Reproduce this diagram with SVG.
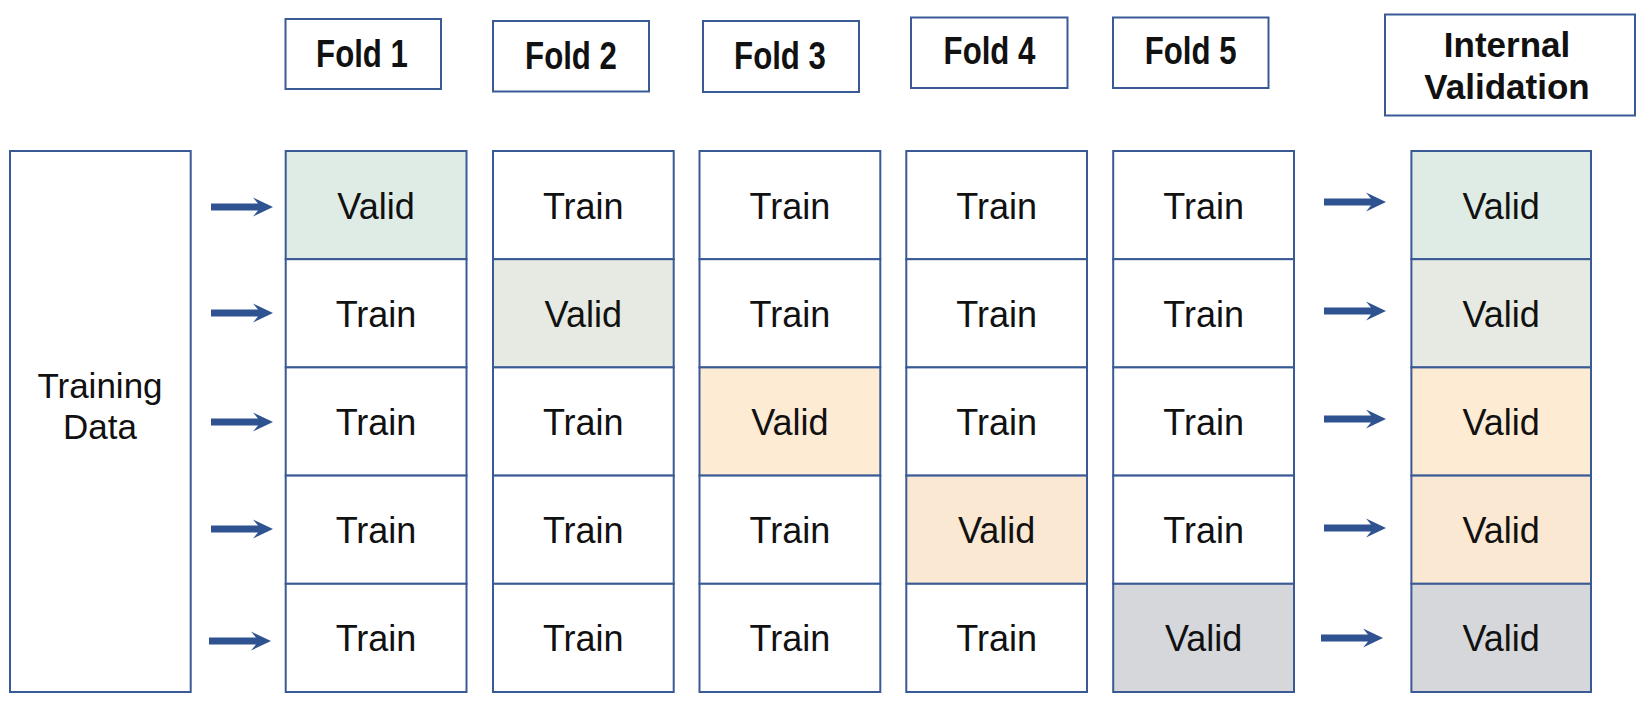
<svg xmlns="http://www.w3.org/2000/svg" xmlns:xlink="http://www.w3.org/1999/xlink" width="1645" height="703" viewBox="0 0 1645 703">
<style>
.box{fill:#fff;stroke:#3A5A96;stroke-width:2}
.v1{fill:#DFECE6}
.v2{fill:#E6EAE2}
.v3{fill:#FDEBD3}
.v4{fill:#FBE8D3}
.v5{fill:#D6D7DB}
.t{font-family:"Liberation Sans",Arial,sans-serif;font-size:36px;fill:#111;text-anchor:middle}
.td{font-family:"Liberation Sans",Arial,sans-serif;font-size:35px;fill:#111;text-anchor:middle}
.fold{font-family:"Liberation Sans",Arial,sans-serif;font-size:39px;font-weight:bold;fill:#111;text-anchor:middle}
.iv{font-family:"Liberation Sans",Arial,sans-serif;font-size:35px;font-weight:bold;fill:#111;text-anchor:middle}
.arr{fill:#2F5290}
</style>
<defs>
<path id="arrow" d="M0,-3.4 H47 L42,-9.5 L62,0 L42,9.5 L47,3.4 H0 Z"/>
</defs>
<rect width="1645" height="703" fill="#fff"/>

<!-- headers -->
<g id="h1"><rect class="box" x="285.5" y="19" width="155.5" height="70"/><text class="fold" transform="translate(362,67) scale(0.8,1)">Fold 1</text></g>
<g id="h2"><rect class="box" x="493" y="21" width="156" height="70.5"/><text class="fold" transform="translate(571,69.3) scale(0.8,1)">Fold 2</text></g>
<g id="h3"><rect class="box" x="703" y="21" width="156" height="71"/><text class="fold" transform="translate(780,68.6) scale(0.8,1)">Fold 3</text></g>
<g id="h4"><rect class="box" x="911" y="17.5" width="156.5" height="70.5"/><text class="fold" transform="translate(989.5,64.3) scale(0.8,1)">Fold 4</text></g>
<g id="h5"><rect class="box" x="1113" y="17.5" width="155.5" height="70.5"/><text class="fold" transform="translate(1190.6,64.3) scale(0.8,1)">Fold 5</text></g>
<g id="hiv"><rect class="box" x="1385" y="14.5" width="250" height="101"/><text class="iv" x="1507" y="56.7">Internal</text><text class="iv" x="1507" y="99">Validation</text></g>

<!-- training data -->
<g id="training"><rect class="box" x="10" y="151" width="180.7" height="541"/><text class="td" x="100" y="397.7">Training</text><text class="td" x="100" y="439.3">Data</text></g>

<!-- Fold 1 column -->
<g id="f1r1"><rect class="box v1" x="285.7" y="151" width="180.8" height="108.2"/><text class="t" x="376" y="218.6">Valid</text></g>
<g id="f1r2"><rect class="box" x="285.7" y="259.2" width="180.8" height="108.2"/><text class="t" x="376" y="326.8">Train</text></g>
<g id="f1r3"><rect class="box" x="285.7" y="367.4" width="180.8" height="108.2"/><text class="t" x="376" y="435">Train</text></g>
<g id="f1r4"><rect class="box" x="285.7" y="475.6" width="180.8" height="108.2"/><text class="t" x="376" y="543.2">Train</text></g>
<g id="f1r5"><rect class="box" x="285.7" y="583.8" width="180.8" height="108.2"/><text class="t" x="376" y="651.4">Train</text></g>

<!-- Fold 2 column -->
<g id="f2r1"><rect class="box" x="493" y="151" width="180.7" height="108.2"/><text class="t" x="583.3" y="218.6">Train</text></g>
<g id="f2r2"><rect class="box v2" x="493" y="259.2" width="180.7" height="108.2"/><text class="t" x="583.3" y="326.8">Valid</text></g>
<g id="f2r3"><rect class="box" x="493" y="367.4" width="180.7" height="108.2"/><text class="t" x="583.3" y="435">Train</text></g>
<g id="f2r4"><rect class="box" x="493" y="475.6" width="180.7" height="108.2"/><text class="t" x="583.3" y="543.2">Train</text></g>
<g id="f2r5"><rect class="box" x="493" y="583.8" width="180.7" height="108.2"/><text class="t" x="583.3" y="651.4">Train</text></g>

<!-- Fold 3 column -->
<g id="f3r1"><rect class="box" x="699.5" y="151" width="180.8" height="108.2"/><text class="t" x="789.9" y="218.6">Train</text></g>
<g id="f3r2"><rect class="box" x="699.5" y="259.2" width="180.8" height="108.2"/><text class="t" x="789.9" y="326.8">Train</text></g>
<g id="f3r3"><rect class="box v3" x="699.5" y="367.4" width="180.8" height="108.2"/><text class="t" x="789.9" y="435">Valid</text></g>
<g id="f3r4"><rect class="box" x="699.5" y="475.6" width="180.8" height="108.2"/><text class="t" x="789.9" y="543.2">Train</text></g>
<g id="f3r5"><rect class="box" x="699.5" y="583.8" width="180.8" height="108.2"/><text class="t" x="789.9" y="651.4">Train</text></g>

<!-- Fold 4 column -->
<g id="f4r1"><rect class="box" x="906.3" y="151" width="180.7" height="108.2"/><text class="t" x="996.6" y="218.6">Train</text></g>
<g id="f4r2"><rect class="box" x="906.3" y="259.2" width="180.7" height="108.2"/><text class="t" x="996.6" y="326.8">Train</text></g>
<g id="f4r3"><rect class="box" x="906.3" y="367.4" width="180.7" height="108.2"/><text class="t" x="996.6" y="435">Train</text></g>
<g id="f4r4"><rect class="box v4" x="906.3" y="475.6" width="180.7" height="108.2"/><text class="t" x="996.6" y="543.2">Valid</text></g>
<g id="f4r5"><rect class="box" x="906.3" y="583.8" width="180.7" height="108.2"/><text class="t" x="996.6" y="651.4">Train</text></g>

<!-- Fold 5 column -->
<g id="f5r1"><rect class="box" x="1113.2" y="151" width="180.8" height="108.2"/><text class="t" x="1203.6" y="218.6">Train</text></g>
<g id="f5r2"><rect class="box" x="1113.2" y="259.2" width="180.8" height="108.2"/><text class="t" x="1203.6" y="326.8">Train</text></g>
<g id="f5r3"><rect class="box" x="1113.2" y="367.4" width="180.8" height="108.2"/><text class="t" x="1203.6" y="435">Train</text></g>
<g id="f5r4"><rect class="box" x="1113.2" y="475.6" width="180.8" height="108.2"/><text class="t" x="1203.6" y="543.2">Train</text></g>
<g id="f5r5"><rect class="box v5" x="1113.2" y="583.8" width="180.8" height="108.2"/><text class="t" x="1203.6" y="651.4">Valid</text></g>

<!-- Internal validation column -->
<g id="ivr1"><rect class="box v1" x="1411.4" y="151" width="179.6" height="108.2"/><text class="t" x="1501.2" y="218.6">Valid</text></g>
<g id="ivr2"><rect class="box v2" x="1411.4" y="259.2" width="179.6" height="108.2"/><text class="t" x="1501.2" y="326.8">Valid</text></g>
<g id="ivr3"><rect class="box v3" x="1411.4" y="367.4" width="179.6" height="108.2"/><text class="t" x="1501.2" y="435">Valid</text></g>
<g id="ivr4"><rect class="box v4" x="1411.4" y="475.6" width="179.6" height="108.2"/><text class="t" x="1501.2" y="543.2">Valid</text></g>
<g id="ivr5"><rect class="box v5" x="1411.4" y="583.8" width="179.6" height="108.2"/><text class="t" x="1501.2" y="651.4">Valid</text></g>

<!-- connectors -->
<g id="connectors" class="arr">
<use xlink:href="#arrow" href="#arrow" x="211" y="207"/>
<use xlink:href="#arrow" href="#arrow" x="211" y="313"/>
<use xlink:href="#arrow" href="#arrow" x="211" y="422"/>
<use xlink:href="#arrow" href="#arrow" x="211" y="529"/>
<use xlink:href="#arrow" href="#arrow" x="209" y="641"/>
<use xlink:href="#arrow" href="#arrow" x="1324" y="202"/>
<use xlink:href="#arrow" href="#arrow" x="1324" y="311"/>
<use xlink:href="#arrow" href="#arrow" x="1324" y="419"/>
<use xlink:href="#arrow" href="#arrow" x="1324" y="528"/>
<use xlink:href="#arrow" href="#arrow" x="1321" y="638"/>
</g>
</svg>
